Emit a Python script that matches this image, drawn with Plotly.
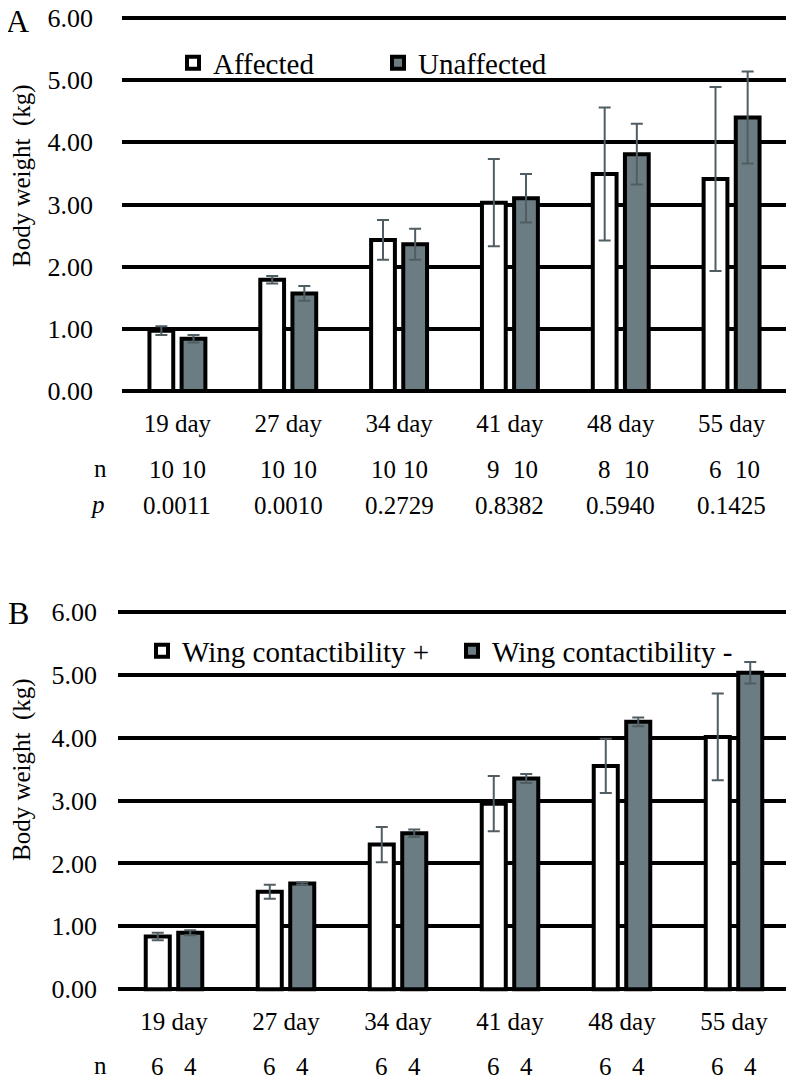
import plotly.graph_objects as go

# ---------------- data ----------------
days = ["19 day", "27 day", "34 day", "41 day", "48 day", "55 day"]

# Panel A
affected_mean = [0.97, 1.79, 2.43, 3.03, 3.49, 3.41]
affected_err = [0.07, 0.06, 0.32, 0.70, 1.07, 1.48]
unaffected_mean = [0.84, 1.57, 2.36, 3.10, 3.81, 4.40]
unaffected_err = [0.06, 0.12, 0.25, 0.39, 0.49, 0.74]
n_affected = [10, 10, 10, 9, 8, 6]
n_unaffected = [10, 10, 10, 10, 10, 10]
p_values = ["0.0011", "0.0010", "0.2729", "0.8382", "0.5940", "0.1425"]

# Panel B
wing_pos_mean = [0.84, 1.55, 2.30, 2.95, 3.55, 4.01]
wing_pos_err = [0.06, 0.11, 0.28, 0.44, 0.43, 0.69]
wing_neg_mean = [0.90, 1.68, 2.48, 3.35, 4.25, 5.03]
wing_neg_err = [0.04, 0.02, 0.06, 0.07, 0.07, 0.17]
n_wing_pos = [6, 6, 6, 6, 6, 6]
n_wing_neg = [4, 4, 4, 4, 4, 4]

y_ticks = [0, 1, 2, 3, 4, 5, 6]
y_tick_text = ["0.00", "1.00", "2.00", "3.00", "4.00", "5.00", "6.00"]

# ---------------- style ----------------
FONT = "Liberation Serif"
GRAY = "#6b7c82"
ERR = "#505e63"
OFF = 8                      # page body margin of the html page
W, H = 794 - OFF, 1080 - OFF
BARGAP = 0.42
BARGROUPGAP = 0.26
LW = 4


def py(px):
    return 1 - (px - OFF) / H


def pxx(px):
    return (px - OFF) / W


fig = go.Figure()


def add_pair(xa, ya, m1, e1, m2, e2, name1, name2, legend):
    fig.add_trace(go.Bar(
        x=days, y=m1, name=name1, xaxis=xa, yaxis=ya, legend=legend,
        marker=dict(color="white", line=dict(color="black", width=LW)),
        error_y=dict(type="data", array=e1, color=ERR, thickness=2, width=6),
    ))
    fig.add_trace(go.Bar(
        x=days, y=m2, name=name2, xaxis=xa, yaxis=ya, legend=legend,
        marker=dict(color=GRAY, line=dict(color="black", width=LW)),
        error_y=dict(type="data", array=e2, color=ERR, thickness=2, width=6),
    ))


add_pair("x", "y", affected_mean, affected_err, unaffected_mean, unaffected_err,
         "Affected", "Unaffected", "legend")
add_pair("x2", "y2", wing_pos_mean, wing_pos_err, wing_neg_mean, wing_neg_err,
         "Wing contactibility +", "Wing contactibility -", "legend2")

yrange = [-0.05, 6.05]


def yaxis(domain, standoff):
    return dict(
        domain=domain, range=yrange, tickvals=y_ticks, ticktext=y_tick_text,
        showgrid=True, gridcolor="black", gridwidth=LW, zeroline=False,
        showline=False, ticks="", ticklabelstandoff=standoff, automargin=False,
        ticklabeloverflow="allow",
        tickfont=dict(family=FONT, size=26, color="black"), fixedrange=True,
    )


def xaxis(domain, anchor, standoff):
    return dict(
        domain=domain, anchor=anchor, showgrid=False, zeroline=False,
        showline=False, ticks="", ticklabelstandoff=standoff, automargin=False,
        ticklabeloverflow="allow",
        tickfont=dict(family=FONT, size=25, color="black"),
        categoryorder="array", categoryarray=days,
    )


# panel A: 6 at y=18, 0 at y=391 ; panel B: 6 at 611.7, 0 at 989.3
uA = (391 - 18) / 6
uB = (989.3 - 611.7) / 6
domA = [py(391 + 0.05 * uA), py(18 - 0.05 * uA)]
domB = [py(989.3 + 0.05 * uB), py(611.7 - 0.05 * uB)]

fig.update_layout(
    template="none",
    width=W, height=H,
    margin=dict(l=0, r=0, t=0, b=0, pad=0, autoexpand=False),
    paper_bgcolor="white", plot_bgcolor="white",
    barmode="group", bargap=BARGAP, bargroupgap=BARGROUPGAP,
    font=dict(family=FONT, color="black"),
    xaxis=xaxis([pxx(122), pxx(787)], "y", 12),
    yaxis=yaxis(domA, 28),
    xaxis2=xaxis([pxx(118), pxx(790)], "y2", 12),
    yaxis2=yaxis(domB, 24),
    legend=dict(
        orientation="h", x=pxx(173), xanchor="left", y=py(63), yanchor="middle",
        font=dict(family=FONT, size=29, color="black"), bgcolor="rgba(0,0,0,0)",
        itemwidth=30, entrywidth=160, traceorder="normal",
    ),
    legend2=dict(
        orientation="h", x=pxx(142), xanchor="left", y=py(651), yanchor="middle",
        font=dict(family=FONT, size=29, color="black"), bgcolor="rgba(0,0,0,0)",
        itemwidth=30, entrywidth=265, traceorder="normal",
    ),
    showlegend=True,
)


def note(text, x, y, xref="paper", size=25, angle=0):
    return dict(text=text, x=x, y=py(y), xref=xref, yref="paper",
                xanchor="center", yanchor="middle", textangle=angle,
                showarrow=False, font=dict(family=FONT, size=size, color="black"))


ann = []
# panel letters
ann.append(note("A", pxx(17), 21, size=32))
ann.append(note("B", pxx(18), 613, size=32))
# y titles
for yc in (176, 770):
    ann.append(note("Body weight  (kg)", pxx(22), yc, size=25, angle=-90))

off = (1 - BARGAP) / 4
# n / p rows panel A
ann.append(note("n", pxx(100), 468))
ann.append(note("<i>p</i>", pxx(97), 504))
for i in range(len(days)):
    ann.append(note(str(n_affected[i]), i - off, 469, xref="x"))
    ann.append(note(str(n_unaffected[i]), i + off, 469, xref="x"))
    ann.append(note(p_values[i], i, 505, xref="x"))
# n row panel B
ann.append(note("n", pxx(100), 1065))
for i in range(len(days)):
    ann.append(note(str(n_wing_pos[i]), i - off, 1066, xref="x2"))
    ann.append(note(str(n_wing_neg[i]), i + off, 1066, xref="x2"))

fig.update_layout(annotations=ann)
fig.write_html("out.html")
